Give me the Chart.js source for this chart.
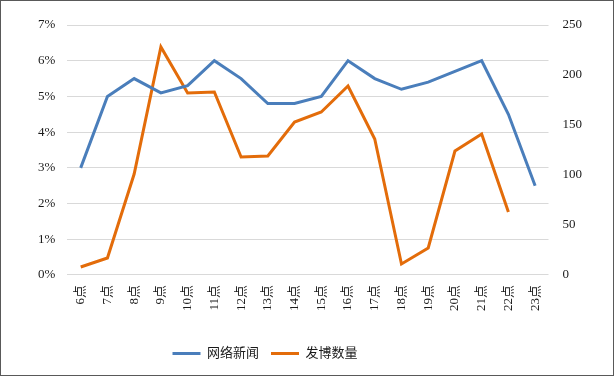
<!DOCTYPE html>
<html>
<head>
<meta charset="utf-8">
<script src="https://cdn.jsdelivr.net/npm/chart.js@4"></script>
<style>
    html, body { margin: 0; padding: 0; background: #fff; }
    #wrap {
        width: 614px;
        height: 376px;
        box-sizing: border-box;
        border: 1px solid #595959;
        position: relative;
    }
</style>
</head>
<body>
<div id="wrap"><canvas id="myChart"></canvas></div>
<script>
// 数据
const horas = ['6点', '7点', '8点', '9点', '10点', '11点', '12点', '13点', '14点', '15点', '16点', '17点', '18点', '19点', '20点', '21点', '22点', '23点'];
const noticias = [3.0, 5.0, 5.5, 5.1, 5.3, 6.0, 5.5, 4.8, 4.8, 5.0, 6.0, 5.5, 5.2, 5.4, 5.7, 6.0, 4.5, 2.5]; // 网络新闻 (%)
const publicaciones = [8, 17, 101, 228, 182, 183, 118, 119, 153, 163, 189, 136, 11, 27, 124, 141, 63, null]; // 发博数量
const ticksIzq = [0, 1, 2, 3, 4, 5, 6, 7];
const ticksDer = [0, 50, 100, 150, 200, 250];

const fuente = '"Liberation Serif", "Times New Roman", "Noto Sans CJK SC", serif';
const colorTexto = '#1a1a1a';

// mover la leyenda un poco a la izquierda, como en el original
const moverLeyenda = {
    id: 'moverLeyenda',
    afterLayout(chart) {
        if (chart.legend) {
            chart.legend.left -= 46;
            chart.legend.right -= 46;
        }
    }
};

const ctx = document.getElementById('myChart').getContext('2d');
new Chart(ctx, {
    type: 'line',
    data: {
        labels: horas,
        datasets: [{
            label: '网络新闻',
            data: noticias,
            borderColor: '#4a7ebb',
            backgroundColor: '#4a7ebb',
            borderWidth: 3,
            pointRadius: 0,
            tension: 0,
            yAxisID: 'y'
        }, {
            label: '发博数量',
            data: publicaciones,
            borderColor: '#e36c0a',
            backgroundColor: '#e36c0a',
            borderWidth: 3,
            pointRadius: 0,
            tension: 0,
            yAxisID: 'y1'
        }]
    },
    options: {
        responsive: true,
        maintainAspectRatio: false,
        animation: false,
        layout: {
            padding: { left: 25, right: 17, top: 24, bottom: 5 }
        },
        plugins: {
            legend: {
                position: 'bottom',
                labels: {
                    usePointStyle: true,
                    pointStyle: 'line',
                    pointStyleWidth: 28,
                    boxHeight: 3,
                    padding: 12,
                    color: colorTexto,
                    font: { family: fuente, size: 13 }
                }
            },
            tooltip: { enabled: false }
        },
        scales: {
            x: {
                offset: true,
                grid: { display: false, drawTicks: false },
                border: { display: false },
                afterFit: (axis) => { axis.height += 14; },
                ticks: {
                    minRotation: 90,
                    maxRotation: 90,
                    padding: 10,
                    color: colorTexto,
                    font: { family: fuente, size: 13 }
                }
            },
            y: {
                position: 'left',
                min: 0,
                max: 7,
                afterBuildTicks: (axis) => { axis.ticks = ticksIzq.map(v => ({ value: v })); },
                grid: { color: '#d9d9d9', lineWidth: 1, drawTicks: false },
                border: { display: false },
                ticks: {
                    padding: 12,
                    color: colorTexto,
                    font: { family: fuente, size: 13 },
                    callback: (v) => v + '%'
                }
            },
            y1: {
                position: 'right',
                min: 0,
                max: 250,
                afterBuildTicks: (axis) => { axis.ticks = ticksDer.map(v => ({ value: v })); },
                grid: { display: false, drawTicks: false },
                border: { display: false },
                ticks: {
                    padding: 14,
                    color: colorTexto,
                    font: { family: fuente, size: 13 }
                }
            }
        }
    },
    plugins: [moverLeyenda]
});
</script>
</body>
</html>
